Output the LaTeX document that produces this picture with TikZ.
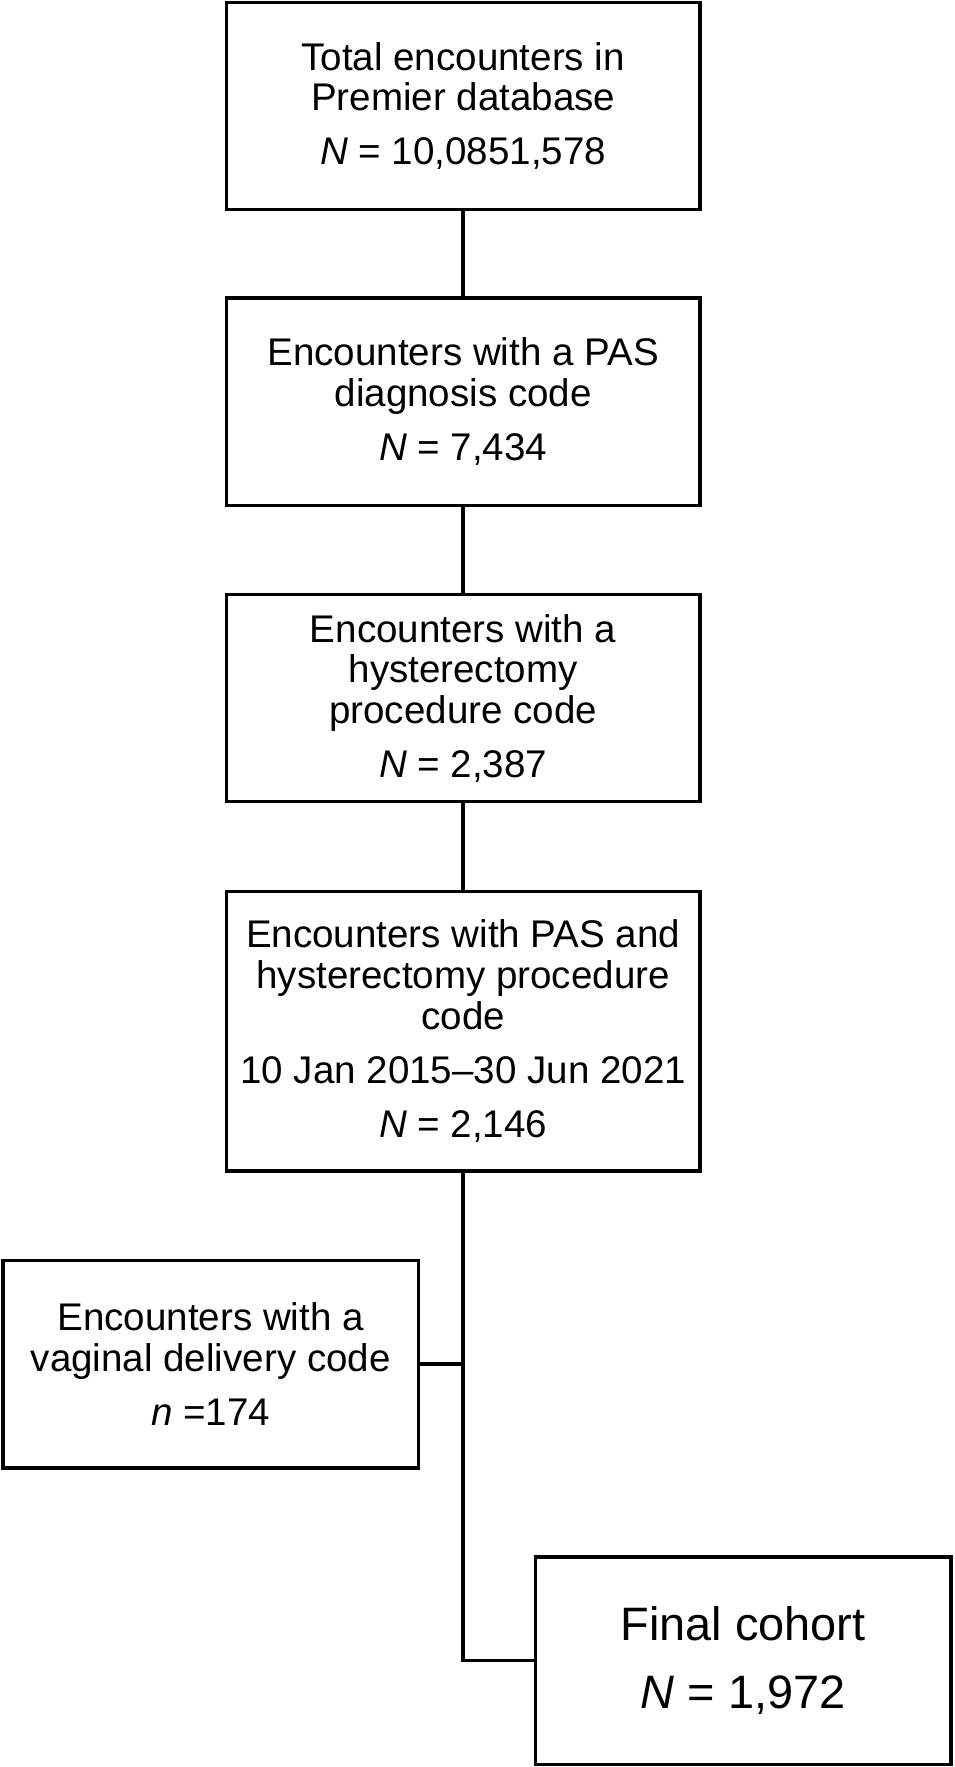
\documentclass[tikz,border=0pt]{standalone}
\usepackage{fontspec}
\setmainfont{Liberation Sans}
\tikzstyle{stage}=[draw,line width=1.5pt,minimum width=210pt,minimum height=92pt,inner sep=0pt,align=center,font=\fontsize{17.1}{18}\selectfont]
\tikzstyle{tall stage}=[stage,minimum height=124pt]
\tikzstyle{side stage}=[stage,minimum width=184.5pt]
\tikzstyle{link} = [draw,line width=1.5pt,-]

\begin{document}
\begin{tikzpicture}[x=0.5pt,y=-0.5pt]
	\useasboundingbox (0,0) rectangle (847,1568);
	\node[stage] (total) at (411,94) {Total encounters in\\Premier database\\[6pt]\textit{N} = 10,0851,578};
		\node[stage] (pas) at (411,356.5) {Encounters with a PAS\\diagnosis code\\[6pt]\textit{N} = 7,434};
		\node[stage] (hyst) at (411,619.5) {Encounters with a\\hysterectomy\\procedure code\\[6pt]\textit{N} = 2,387};
		\node[tall stage] (both) at (411,915) {Encounters with PAS and\\hysterectomy procedure\\code\\[6pt]10 Jan 2015--30 Jun 2021\\[6pt]\textit{N} = 2,146};
		\node[side stage] (vag) at (187,1210.5) {Encounters with a\\vaginal delivery code\\[6pt]\textit{n} =174};
		\node[side stage,font=\fontsize{20.8}{25}\selectfont] (final) at (659.5,1473.5) {Final cohort\\[5pt]\textit{N} = 1,972};
   		 % Connect the stages top to bottom
   		 \foreach \source/ \dest in {total/pas, pas/hyst, hyst/both}
		 \path[link] (\source) to (\dest);
		% Exclusion branch and final cohort
		\coordinate (split) at (vag.east -| both.south);
		\path[link] (vag.east) -- (split);
		\path[link] (both.south) |- (final.west);
\end{tikzpicture}
\end{document}
